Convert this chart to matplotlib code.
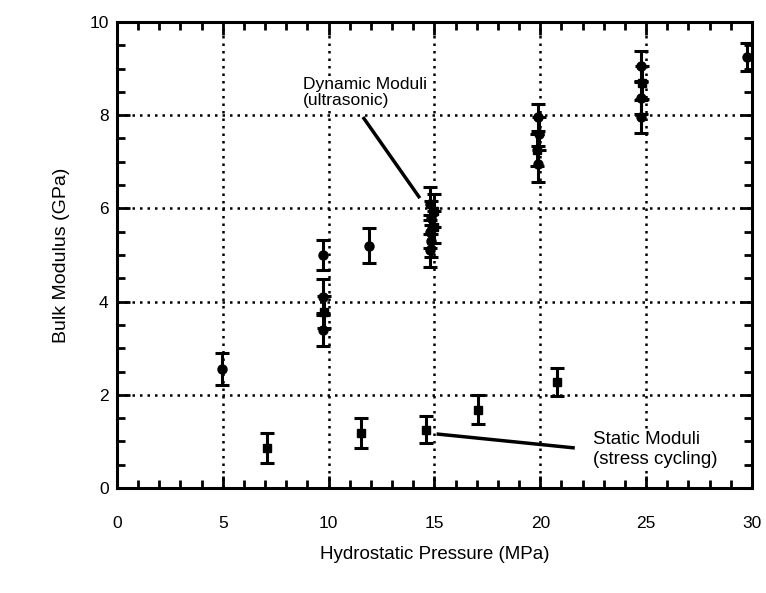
import matplotlib
matplotlib.use("Agg")
import matplotlib.pyplot as plt
from matplotlib.ticker import MultipleLocator

plt.rcParams['font.family'] = ['Liberation Sans', 'DejaVu Sans']

# Dynamic moduli (ultrasonic): circles
dyn_circ_x = [4.95, 9.75, 9.75, 9.75, 11.9, 14.8, 14.85, 14.8, 14.85, 14.8, 19.9, 19.95, 19.9, 24.75, 24.75, 24.75, 29.75]
dyn_circ_y = [2.55, 5.0, 4.1, 3.4, 5.2, 6.1, 5.8, 5.5, 5.3, 5.1, 7.95, 7.6, 6.95, 9.05, 8.37, 7.97, 9.25]
dyn_circ_err = [0.35, 0.33, 0.38, 0.35, 0.37, 0.35, 0.35, 0.35, 0.35, 0.35, 0.3, 0.35, 0.38, 0.32, 0.35, 0.35, 0.3]

# Dynamic moduli squares
dyn_sq_x = [9.8, 15.0, 15.0, 19.85, 24.8]
dyn_sq_y = [3.78, 5.95, 5.6, 7.25, 8.7]
dyn_sq_err = [0.35, 0.35, 0.35, 0.35, 0.35]

# Static moduli (stress cycling)
stat_x = [7.1, 11.55, 14.6, 17.05, 20.8]
stat_y = [0.86, 1.18, 1.25, 1.68, 2.27]
stat_err = [0.33, 0.32, 0.29, 0.31, 0.3]

# Annotation leader lines (start, end) in data units
dyn_leader_x = [11.62, 14.31]
dyn_leader_y = [7.96, 6.22]
stat_leader_x = [15.1, 21.63]
stat_leader_y = [1.16, 0.86]

fig = plt.figure(figsize=(7.66, 5.93), dpi=100)
ax = fig.add_axes([0.1527, 0.177, 0.8290, 0.786])

ekw = dict(color='black', ecolor='black', elinewidth=2.2, capsize=5, capthick=2.2, linestyle='none')
ax.errorbar(dyn_circ_x, dyn_circ_y, yerr=dyn_circ_err, fmt='o', markersize=6.5, **ekw)
ax.errorbar(dyn_sq_x, dyn_sq_y, yerr=dyn_sq_err, fmt='s', markersize=6, **ekw)
ax.errorbar(stat_x, stat_y, yerr=stat_err, fmt='s', markersize=6, **ekw)

ax.set_xlim(0, 30)
ax.set_ylim(0, 10)
ax.xaxis.set_major_locator(MultipleLocator(5))
ax.xaxis.set_minor_locator(MultipleLocator(1))
ax.yaxis.set_major_locator(MultipleLocator(2))
ax.yaxis.set_minor_locator(MultipleLocator(0.5))
ax.tick_params(which='both', direction='in', top=True, right=True, width=2, labelsize=12.5, colors='black')
ax.tick_params(which='major', length=9)
ax.tick_params(which='minor', length=6)
ax.tick_params(axis='x', which='major', pad=20)
ax.tick_params(axis='y', which='major', pad=6)
ax.grid(True, which='major', linestyle=(0, (1, 2)), color='black', linewidth=1.8)
for s in ax.spines.values():
    s.set_linewidth(2.2)

ax.set_xlabel('Hydrostatic Pressure (MPa)', fontsize=13.5, labelpad=11)
ax.set_ylabel('Bulk Modulus (GPa)', fontsize=14, labelpad=14)

ax.plot(dyn_leader_x, dyn_leader_y, color='black', linewidth=2.5, solid_capstyle='butt')
ax.plot(stat_leader_x, stat_leader_y, color='black', linewidth=2.5, solid_capstyle='butt')
ax.text(8.8, 8.15, 'Dynamic Moduli\n(ultrasonic)', fontsize=12.5, ha='left', va='bottom',
        linespacing=1.1, zorder=5,
        bbox=dict(facecolor='white', edgecolor='none', pad=1))
ax.text(22.5, 0.42, 'Static Moduli\n(stress cycling)', fontsize=13.5, ha='left', va='bottom',
        linespacing=1.25, zorder=5,
        bbox=dict(facecolor='white', edgecolor='none', pad=1))

fig.savefig('out.png', dpi=100)
